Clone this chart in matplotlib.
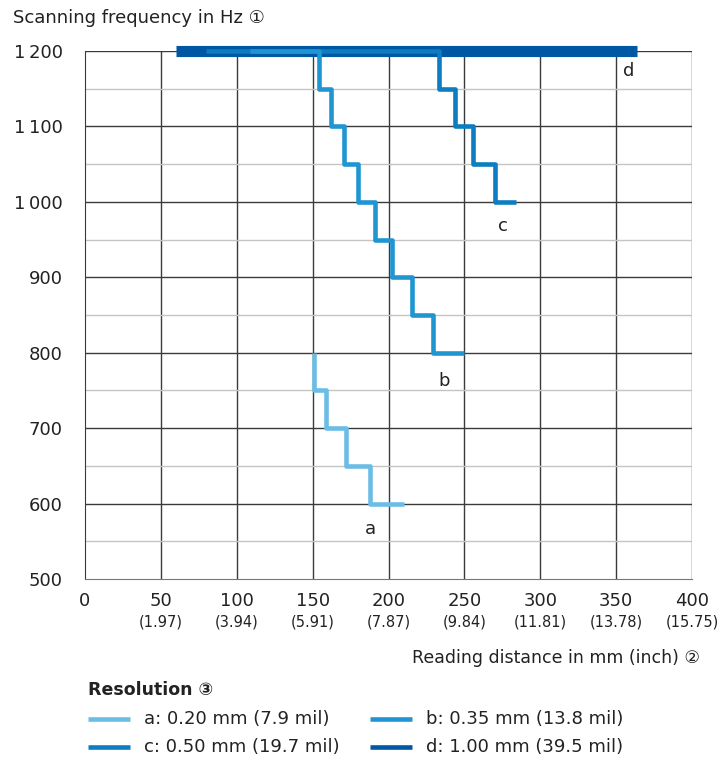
import numpy as np
import matplotlib.pyplot as plt

plt.rcParams['font.family'] = ['DejaVu Sans', 'Noto Sans CJK JP']

# step curves: x = reading distance (mm), y = scanning frequency (Hz)
a_x = [151, 151, 159, 159, 172, 172, 188, 188, 210]
a_y = [800, 750, 750, 700, 700, 650, 650, 600, 600]
b_x = [109, 154, 154, 162, 162, 171, 171, 180, 180, 191, 191, 202.5, 202.5, 215.5, 215.5, 229, 229, 250]
b_y = [1200, 1200, 1150, 1150, 1100, 1100, 1050, 1050, 1000, 1000, 950, 950, 900, 900, 850, 850, 800, 800]
c_x = [80, 233, 233, 244, 244, 256, 256, 270, 270, 284]
c_y = [1200, 1200, 1150, 1150, 1100, 1100, 1050, 1050, 1000, 1000]
d_x = [60, 364]
d_y = [1200, 1200]

x_ticks = [0, 50, 100, 150, 200, 250, 300, 350, 400]
x_inch = ['', '(1.97)', '(3.94)', '(5.91)', '(7.87)', '(9.84)', '(11.81)', '(13.78)', '(15.75)']
y_ticks = [500, 600, 700, 800, 900, 1000, 1100, 1200]
y_labels = ['500', '600', '700', '800', '900', '1\u2009000', '1\u2009100', '1\u2009200']

legend_labels = ['a: 0.20 mm (7.9 mil)', 'b: 0.35 mm (13.8 mil)',
                 'c: 0.50 mm (19.7 mil)', 'd: 1.00 mm (39.5 mil)']
colors = ['#6BBDE5', '#1F96D2', '#0B7DC0', '#0057A3']
txt = '#222222'

fig = plt.figure(figsize=(7.21, 7.61), dpi=100)
ax = fig.add_axes([85/721, 1 - 579/761, (692-85)/721, (579-51)/761])
ax.set_xlim(0, 400)
ax.set_ylim(500, 1200)

# grid
for xv in x_ticks[1:]:
    ax.axvline(xv, color='#3a3a3a', lw=1.0, zorder=1)
for yv in np.arange(550, 1200, 100):
    ax.axhline(yv, color='#c4c4c4', lw=1.0, zorder=1)
for yv in y_ticks[1:]:
    ax.axhline(yv, color='#3a3a3a', lw=1.0, zorder=1)

for s in ['top', 'right']:
    ax.spines[s].set_visible(False)
ax.spines['left'].set_color('#3a3a3a')
ax.spines['bottom'].set_color('#777777')

ax.plot(d_x, d_y, color=colors[3], lw=8, solid_capstyle='butt', zorder=3, clip_on=False)
ax.plot(c_x, c_y, color=colors[2], lw=3.3, solid_capstyle='butt', zorder=4, clip_on=False)
ax.plot(b_x, b_y, color=colors[1], lw=3.3, solid_capstyle='butt', zorder=5, clip_on=False)
ax.plot(a_x, a_y, color=colors[0], lw=3.3, solid_capstyle='butt', zorder=6)

ax.set_xticks(x_ticks)
ax.set_xticklabels([str(v) for v in x_ticks], fontsize=13, color=txt)
ax.set_yticks(y_ticks)
ax.set_yticklabels(y_labels, fontsize=13, color=txt)
ax.tick_params(length=0)
ax.tick_params(axis='x', pad=9)
ax.tick_params(axis='y', pad=16)

for xv, lab in zip(x_ticks, x_inch):
    ax.text(xv, -0.082, lab, transform=ax.get_xaxis_transform(), ha='center', va='center',
            fontsize=10.5, color=txt)

ax.text(188, 566, 'a', fontsize=13, ha='center', va='center', color=txt)
ax.text(236.5, 762, 'b', fontsize=13, ha='center', va='center', color=txt)
ax.text(275.5, 968, 'c', fontsize=13, ha='center', va='center', color=txt)
ax.text(358.5, 1173, 'd', fontsize=13, ha='center', va='center', color=txt)

fig.text(13/721, 1 - 18/761, 'Scanning frequency in Hz \u2460', fontsize=13,
         ha='left', va='center', color=txt)
fig.text(700/721, 1 - 658/761, 'Reading distance in mm (inch) \u2461', fontsize=12.5,
         ha='right', va='center', color=txt)
fig.text(88/721, 1 - 690/761, 'Resolution \u2462', fontsize=12.5, fontweight='bold',
         ha='left', va='center', color=txt)

# legend
leg_pos = [(88, 719), (370, 719), (88, 747), (370, 747)]
for (px, py), lab, col in zip(leg_pos, legend_labels, colors):
    fig.add_artist(plt.Line2D([px/721, (px+42)/721], [1 - py/761, 1 - py/761],
                              color=col, lw=3.3, solid_capstyle='butt'))
    fig.text((px+56)/721, 1 - py/761, lab, fontsize=13, ha='left', va='center',
             color=txt)

fig.savefig('out.png', dpi=100)
